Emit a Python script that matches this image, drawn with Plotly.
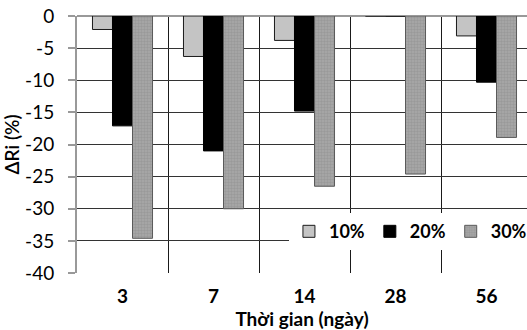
import plotly.graph_objects as go

# Thời gian ngâm (ngày) và độ thay đổi ΔRi (%) theo hàm lượng
categories = ["3", "7", "14", "28", "56"]
series_names = ["10%", "20%", "30%"]
values_10 = [-2.1, -6.3, -3.8, 0, -3.1]
values_20 = [-17.1, -21.0, -14.8, 0, -10.3]
values_30 = [-34.6, -30.0, -26.5, -24.6, -18.9]
y_ticks = [0, -5, -10, -15, -20, -25, -30, -35, -40]

FONT = "Lato"

fig = go.Figure()
fig.add_trace(go.Bar(
    x=categories, y=values_10, name=series_names[0],
    marker=dict(color="#c4c4c4", line=dict(color="#1a1a1a", width=1)),
))
fig.add_trace(go.Bar(
    x=categories, y=values_20, name=series_names[1],
    marker=dict(color="#000000", line=dict(color="#000000", width=1)),
))
fig.add_trace(go.Bar(
    x=categories, y=values_30, name=series_names[2],
    marker=dict(color="#9c9c9c", line=dict(color="#5a5a5a", width=1),
                pattern=dict(shape=".", fgcolor="#8a8a8a", bgcolor="#a8a8a8",
                             size=3, solidity=0.5)),
))

fig.update_layout(
    width=527, height=330,
    margin=dict(l=77, r=0, t=16, b=57, autoexpand=False),
    paper_bgcolor="white", plot_bgcolor="white",
    barmode="group", bargap=0.34, bargroupgap=0,
    font=dict(family=FONT, color="#000000", size=18),
    showlegend=True,
    legend=dict(
        orientation="h", x=0.471, y=0.233, xanchor="left", yanchor="top",
        bgcolor="white", borderwidth=0,
        font=dict(family=FONT, size=18, color="#000000", weight="bold"),
        itemwidth=30, traceorder="normal",
    ),
    xaxis=dict(
        type="category", range=[-0.5, 4.445], automargin=False,
        tickson="boundaries", showgrid=True, gridcolor="#1a1a1a", gridwidth=1,
        ticks="", showline=False, zeroline=False, ticklabelstandoff=10,
        tickfont=dict(family=FONT, size=19, color="#000000", weight="bold"),
        title=dict(text="Thời gian (ngày)", standoff=4,
                   font=dict(family=FONT, size=19, color="#000000", weight="bold")),
    ),
    yaxis=dict(
        range=[-40, 0], tickvals=y_ticks, ticktext=[str(v) for v in y_ticks],
        automargin=False,
        showgrid=True, gridcolor="#333333", gridwidth=1,
        zeroline=True, zerolinecolor="#999999", zerolinewidth=2,
        showline=True, linecolor="#999999", linewidth=2,
        ticks="outside", ticklen=7, tickcolor="#999999", tickwidth=2,
        ticklabelstandoff=10,
        tickfont=dict(family=FONT, size=19, color="#000000"),
        title=dict(text="ΔRi (%)", standoff=0,
                   font=dict(family=FONT, size=19, color="#000000", weight=600)),
    ),
)

fig.write_html("out.html")
